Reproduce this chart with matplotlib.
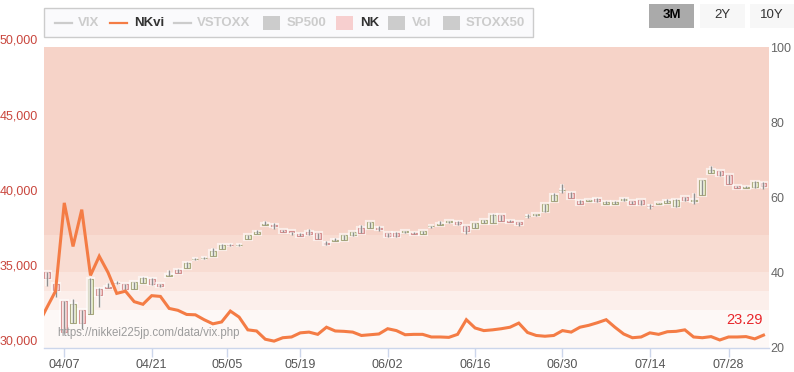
import matplotlib
matplotlib.use("Agg")
import matplotlib.pyplot as plt
import matplotlib.patheffects as pe
import matplotlib.transforms as mtransforms
from matplotlib.patches import Rectangle
from matplotlib.lines import Line2D
import numpy as np
import pandas as pd

plt.rcParams["font.family"] = ["Liberation Sans", "DejaVu Sans"]

# trading days (Tokyo), 2025
dates = [
    "04/02", "04/03", "04/04", "04/07", "04/08", "04/09", "04/10", "04/11", "04/14", "04/15",
    "04/16", "04/17", "04/18", "04/21", "04/22", "04/23", "04/24", "04/25", "04/28", "04/30",
    "05/01", "05/02", "05/07", "05/08", "05/09", "05/12", "05/13", "05/14", "05/15", "05/16",
    "05/19", "05/20", "05/21", "05/22", "05/23", "05/26", "05/27", "05/28", "05/29", "05/30",
    "06/02", "06/03", "06/04", "06/05", "06/06", "06/09", "06/10", "06/11", "06/12", "06/13",
    "06/16", "06/17", "06/18", "06/19", "06/20", "06/23", "06/24", "06/25", "06/26", "06/27",
    "06/30", "07/01", "07/02", "07/03", "07/04", "07/07", "07/08", "07/09", "07/10", "07/11",
    "07/14", "07/15", "07/16", "07/17", "07/18", "07/22", "07/23", "07/24", "07/25", "07/28",
    "07/29", "07/30", "07/31", "08/01",
]

# Nikkei VI (right axis)
nkvi = [
    26.0, 30.6, 35.0, 58.5, 46.9, 56.7, 39.2, 44.3, 40.0, 34.4,
    35.0, 32.2, 31.5, 33.8, 33.6, 30.4, 29.9, 28.8, 28.7, 27.4,
    26.3, 26.8, 29.7, 28.1, 24.7, 24.4, 22.2, 21.7, 22.6, 22.8,
    23.9, 24.1, 23.5, 25.4, 24.4, 24.3, 24.1, 23.2, 23.4, 23.6,
    25.0, 24.5, 23.4, 23.5, 23.5, 22.8, 22.8, 22.7, 23.5, 27.4,
    25.2, 24.5, 24.7, 25.0, 25.4, 26.5, 24.0, 23.2, 23.0, 23.2,
    24.5, 24.1, 25.4, 25.9, 26.6, 27.4, 25.4, 23.6, 22.6, 22.8,
    23.9, 23.5, 24.2, 24.3, 24.7, 22.8, 22.6, 22.9, 22.0, 22.8,
    22.8, 22.9, 22.3, 23.29,
]

# Nikkei 225 daily candles (left axis)
nk_open = [
    35450, 35020, 34250, 33070, 31620, 32470, 32250, 33910, 33980, 34290,
    34200, 33910, 34290, 34540, 34200, 34790, 35180, 35310, 35870, 35930,
    36090, 36580, 36830, 36800, 37250, 37580, 38180, 38130, 37800, 37690,
    37530, 37690, 37620, 36980, 37100, 37180, 37470, 37980, 37980, 37910,
    37620, 37620, 37700, 37620, 37580, 38060, 38180, 38380, 38360, 38070,
    37980, 38290, 38290, 38800, 38400, 38360, 38730, 38800, 39070, 39760,
    40450, 40310, 39760, 39760, 39910, 39540, 39550, 39840, 39730, 39800,
    39420, 39580, 39630, 39400, 40020, 39740, 40180, 41620, 41730, 41470,
    40730, 40620, 40650, 40980,
]
nk_high = [
    35780, 35050, 34270, 33100, 33250, 32500, 34600, 33950, 34270, 34420,
    34250, 34380, 34700, 34600, 34250, 35130, 35220, 35700, 35980, 36040,
    36600, 36900, 36880, 36880, 37500, 37800, 38420, 38290, 37820, 37700,
    37620, 37870, 37650, 37070, 37300, 37480, 37710, 38180, 38380, 38070,
    37650, 37700, 37780, 37700, 37750, 38110, 38420, 38420, 38400, 38090,
    38310, 38500, 38870, 38830, 38510, 38380, 38870, 38890, 39560, 40270,
    40850, 40330, 39850, 39800, 39930, 39720, 39720, 39980, 39750, 39820,
    39580, 39650, 39870, 39870, 40040, 40250, 41160, 42070, 41760, 41490,
    40760, 40760, 41050, 41000,
]
nk_low = [
    35300, 34070, 33360, 30950, 31600, 31250, 32200, 32690, 33930, 34200,
    33850, 33890, 34260, 34170, 34040, 34760, 34960, 35290, 35800, 35900,
    36060, 36560, 36750, 36750, 37220, 37550, 38130, 37910, 37680, 37470,
    37400, 37500, 37230, 36850, 37070, 37160, 37400, 37600, 37960, 37740,
    37380, 37380, 37640, 37530, 37560, 37950, 38170, 38290, 38180, 37530,
    37960, 38270, 38270, 38400, 38330, 38070, 38640, 38780, 39040, 39730,
    40290, 39930, 39550, 39740, 39710, 39520, 39530, 39730, 39560, 39510,
    39250, 39520, 39600, 39380, 39780, 39580, 40150, 41600, 41420, 40890,
    40600, 40600, 40620, 40530,
]
nk_close = [
    35725, 34650, 33800, 31020, 32910, 31620, 34580, 33510, 33950, 34270,
    33890, 34360, 34650, 34200, 34070, 34820, 34980, 35620, 35890, 35990,
    36420, 36850, 36800, 36850, 37470, 37690, 38220, 38090, 37690, 37680,
    37420, 37530, 37250, 36870, 37170, 37470, 37690, 37620, 38360, 37890,
    37400, 37400, 37740, 37560, 37730, 38090, 38240, 38400, 38200, 37730,
    38290, 38470, 38850, 38420, 38380, 38250, 38760, 38870, 39530, 40130,
    40470, 39960, 39580, 39780, 39730, 39690, 39690, 39880, 39580, 39530,
    39400, 39630, 39720, 39840, 39800, 39770, 41130, 41800, 41450, 40910,
    40620, 40700, 41020, 40760,
]

tick_labels = ["04/07", "04/21", "05/05", "05/19", "06/02", "06/16", "06/30", "07/14", "07/28"]
left_ticks = [30000, 35000, 40000, 45000, 50000]
right_ticks = [20, 40, 60, 80, 100]
band_edges = [20, 30, 35, 40, 50, 100]
band_colors = ["#fdf8f6", "#fcefeb", "#fae5de", "#f8dcd2", "#f6d3c8"]
legend_names = ["VIX", "NKvi", "VSTOXX", "SP500", "NK", "Vol", "STOXX50"]
buttons = ["3M", "2Y", "10Y"]
source_url = "https://nikkei225jp.com/data/vix.php"

ORANGE = "#f47c45"
W, H = 794, 372


def fx(px):
    return px / W


def fy(py):
    return 1 - py / H


x = np.arange(len(dates))
ts = pd.to_datetime(["2025/" + d for d in dates])

# tick positions on the trading-day axis (non trading days get interpolated)
tick_pos = []
for lab in tick_labels:
    t = pd.Timestamp("2025/" + lab)
    if lab in dates:
        tick_pos.append(dates.index(lab))
    else:
        j = np.searchsorted(ts, t) - 1
        frac = (t - ts[j]).days / (ts[j + 1] - ts[j]).days
        tick_pos.append(j + frac)

fig = plt.figure(figsize=(W / 100, H / 100), dpi=100)
L, R, T, B = 44, 769, 47, 347.5
ax = fig.add_axes([fx(L), fy(B), (R - L) / W, (B - T) / H])
ax2 = ax.twinx()
ax3 = ax.twinx()

xlim = (0.68, 83.63)

# background bands (right axis scale)
ax.set_xlim(*xlim)
ax.set_ylim(20, 100)
for lo, hi, c in zip(band_edges[:-1], band_edges[1:], band_colors):
    ax.axhspan(lo, hi, color=c, lw=0)
ax.yaxis.tick_right()
ax.set_yticks(right_ticks)
ax.set_yticklabels([str(v) for v in right_ticks])
ax.tick_params(axis="y", length=0, pad=1, labelsize=9, labelcolor="#666666")
ax.set_xticks(tick_pos)
ax.set_xticklabels(tick_labels)
ax.tick_params(axis="x", length=6.5, width=1, color="#ccd6eb", pad=1.5,
               labelsize=9, labelcolor="#555555")
for s in ["top", "left", "right"]:
    ax.spines[s].set_visible(False)
ax.spines["bottom"].set_color("#ccd6eb")
ax.spines["bottom"].set_linewidth(1)

# candles (left axis scale)
ax2.set_xlim(*xlim)
ax2.set_ylim(30000, 50000)
ax2.set_yticks([])
for s in ax2.spines.values():
    s.set_visible(False)
o = np.array(nk_open)
c = np.array(nk_close)
up = c >= o
fills = np.where(up, "#e3eac2", "#f5c7c7")
edges = np.where(up, "#a8a87c", "#d48f8f")
glow = [pe.withStroke(linewidth=3, foreground="white", alpha=0.6)]
wicks = ax2.vlines(x, nk_low, nk_high, color="#8f8f8f", lw=1)
wicks.set_path_effects(glow)
bars = ax2.bar(x, np.maximum(np.abs(c - o), 45), bottom=np.minimum(o, c), width=0.68,
               color=fills, edgecolor=edges, linewidth=0.8)
for p in bars.patches:
    p.set_path_effects(glow)

lab_tf = mtransforms.blended_transform_factory(ax2.transAxes, ax2.transData) + \
    mtransforms.ScaledTranslation(-6.3 / 100, 6 / 100, fig.dpi_scale_trans)
for v in left_ticks:
    ax2.text(0, v, f"{v:,}", transform=lab_tf, ha="right", va="center",
             fontsize=9, color="#c9463d", clip_on=False)

# NKvi line (right axis scale)
ax3.set_xlim(*xlim)
ax3.set_ylim(20, 100)
ax3.set_yticks([])
for s in ax3.spines.values():
    s.set_visible(False)
ax3.plot(x, nkvi, color=ORANGE, lw=2.2, solid_joinstyle="miter")
ax3.annotate(f"{nkvi[-1]:.2f}", xy=(x[-1], nkvi[-1]), xytext=(-1, 15),
             textcoords="offset pixels", ha="right", va="center",
             fontsize=10.5, color="#e8262b")

fig.text(fx(57), fy(333), source_url, ha="left", va="center", fontsize=8.3,
         color="#9c9c9c")

# legend box
fig.add_artist(Rectangle((fx(45), fy(38)), (533 - 44) / W, 29 / H,
                         transform=fig.transFigure, facecolor="#dddddd", lw=0))
fig.add_artist(Rectangle((fx(44), fy(37)), (533 - 44) / W, 29 / H,
                         transform=fig.transFigure, facecolor="#fafafc",
                         edgecolor="#cccccc", lw=1))
sym_x = [55, 110, 174, 263, 336, 388, 443]
txt_x = [78, 134, 197, 287, 360, 412, 466]
kinds = ["line", "line", "line", "box", "box", "box", "box"]
sym_col = ["#cccccc", ORANGE, "#cccccc", "#cccccc", "#f7cfcf", "#cccccc", "#cccccc"]
txt_col = ["#cccccc", "#333333", "#cccccc", "#cccccc", "#333333", "#cccccc", "#cccccc"]
ly = 23
for name, sx, tx, k, sc, tc in zip(legend_names, sym_x, txt_x, kinds, sym_col, txt_col):
    if k == "line":
        fig.add_artist(Line2D([fx(sx), fx(sx + 17)], [fy(ly), fy(ly)],
                              transform=fig.transFigure, color=sc, lw=1.6))
    else:
        fig.add_artist(Rectangle((fx(sx), fy(ly + 7)), 17 / W, 14 / H,
                                 transform=fig.transFigure, facecolor=sc, lw=0))
    fig.text(fx(tx), fy(ly), name, ha="left", va="center", fontsize=9.5,
             fontweight="bold", color=tc)

# range buttons
btn_x = [649, 700, 750]
btn_w = [45, 45, 44]
for i, (b, bx, bw) in enumerate(zip(buttons, btn_x, btn_w)):
    active = i == 0
    fig.add_artist(Rectangle((fx(bx), fy(28)), bw / W, 24 / H, transform=fig.transFigure,
                             facecolor="#aaaaaa" if active else "#f7f7f7", lw=0))
    fig.text(fx(bx + bw / 2), fy(15.5), b, ha="center", va="center", fontsize=9.5,
             fontweight="bold" if active else "normal",
             color="#000000" if active else "#333333")

fig.savefig("out.png", dpi=100)
